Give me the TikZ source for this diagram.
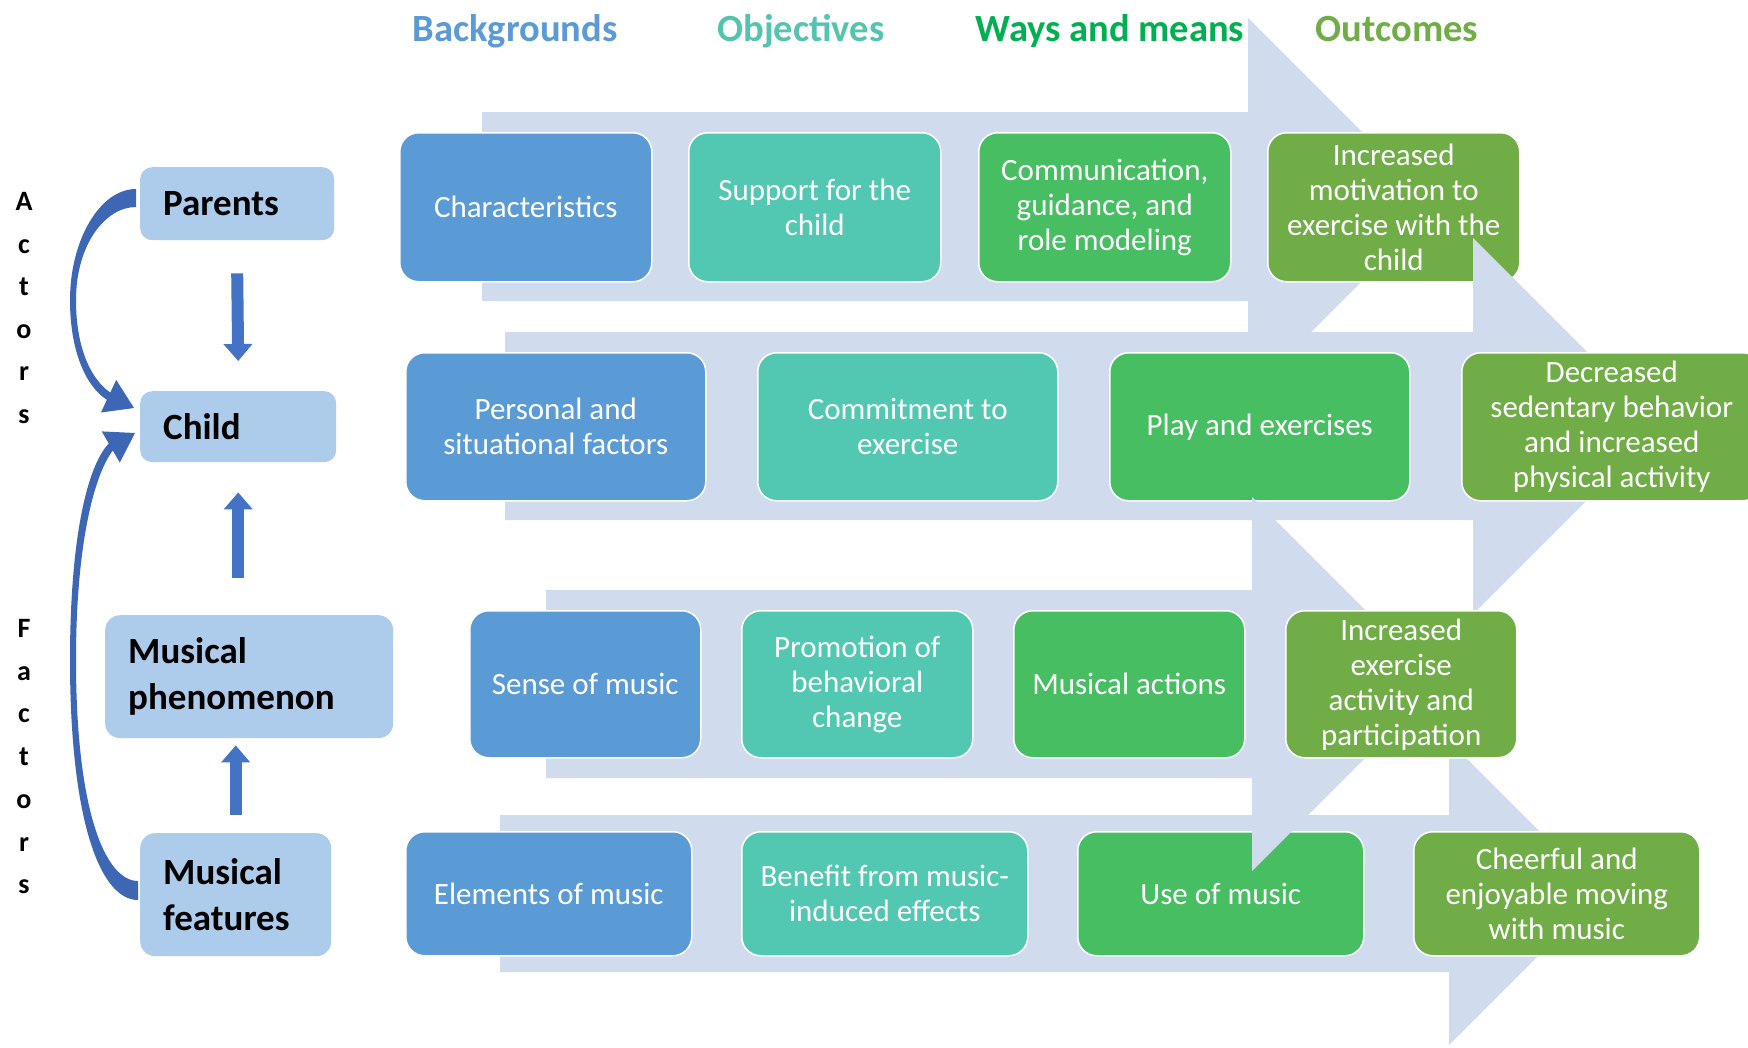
\documentclass[tikz,border=0pt]{standalone}
\usepackage{fontspec}
\setmainfont{Carlito}
\usetikzlibrary{arrows.meta,calc}

\definecolor{bgblue}{HTML}{5B9BD5}
\definecolor{objteal}{HTML}{52C8B2}
\definecolor{waygreen}{HTML}{47BE62}
\definecolor{outgreen}{HTML}{70AD47}
\definecolor{hdteal}{HTML}{55C4AF}
\definecolor{hdgreen}{HTML}{00B050}
\definecolor{bandc}{HTML}{D0DBEE}
\definecolor{actorc}{HTML}{ADCBEA}
\definecolor{linkc}{HTML}{4472C4}
\definecolor{curvec}{HTML}{3D66B4}

\newcommand\boxfont{\fontsize{31}{35}\selectfont}
\newcommand\actorfont{\fontsize{37}{46}\selectfont\bfseries}
\newcommand\headfont{\fontsize{38.5}{44}\selectfont\bfseries}
\newcommand\sidefont{\fontsize{28}{30}\selectfont\bfseries}

\tikzset{
  cell/.style={anchor=north west, rounded corners=19pt, draw=white,
    line width=1.5pt, text=white, align=center, font=\boxfont, inner sep=3pt},
  actor/.style={anchor=north west, rounded corners=12pt, fill=actorc,
    text=black, align=left, font=\actorfont, inner xsep=23pt, inner ysep=2pt},
  band/.style={fill=bandc},
  head/.style={anchor=base, font=\headfont},
  side/.style={anchor=base, font=\sidefont, text=black},
  vlink/.style={draw=linkc, line width=12pt,
    -{Triangle[width=28pt,length=17pt]}},
}

\begin{document}
\begin{tikzpicture}[x=1pt,y=-1pt]
\useasboundingbox (0,0) rectangle (1748,1047);
\fill[white] (0,0) rectangle (1748,1047);

% column headings
\node[head, text=bgblue]   (hbg)  at (515,41)  {Backgrounds};
\node[head, text=hdteal]   (hobj) at (801,41)  {Objectives};
\node[head, text=hdgreen]  (hway) at (1110,41) {Ways and means};
\node[head, text=outgreen] (hout) at (1397,41) {Outcomes};

% vertical side labels
\foreach \l [count=\i from 0] in {A,c,t,o,r,s}
  \node[side] (act\i) at (24,210.5+42.6*\i) {\l};
\foreach \l [count=\i from 0] in {F,a,c,t,o,r,s}
  \node[side] (fac\i) at (24,637.5+42.7*\i) {\l};

% row 1: parents
\fill[band] (482,112) -- (1248,112) -- (1248,18) -- (1436.5,206.5)
  -- (1248,395) -- (1248,301) -- (482,301) -- cycle;
\node[cell, fill=bgblue,   minimum width=252pt, minimum height=149pt] (r1a) at (399,132)  {Characteristics};
\node[cell, fill=objteal,  minimum width=252pt, minimum height=149pt] (r1b) at (688,132)  {Support for the\\child};
\node[cell, fill=waygreen, minimum width=252pt, minimum height=149pt] (r1c) at (978,132)  {Communication,\\guidance, and\\role modeling};
\node[cell, fill=outgreen, minimum width=252pt, minimum height=149pt] (r1d) at (1267,132) {Increased\\motivation to\\exercise with the\\child};

% row 2: child
\fill[band] (505,332) -- (1473,332) -- (1473,238) -- (1661,426)
  -- (1473,614) -- (1473,520) -- (505,520) -- cycle;
\node[cell, fill=bgblue,   minimum width=300pt, minimum height=148pt] (r2a) at (405,352)  {Personal and\\situational factors};
\node[cell, fill=objteal,  minimum width=300pt, minimum height=148pt] (r2b) at (757,352)  {Commitment to\\exercise};
\node[cell, fill=waygreen, minimum width=300pt, minimum height=148pt] (r2c) at (1109,352) {Play and exercises};
\node[cell, fill=outgreen, minimum width=300pt, minimum height=148pt] (r2d) at (1461,352) {Decreased\\sedentary behavior\\and increased\\physical activity};

% row 4: musical features
\fill[band] (500,815) -- (1449,815) -- (1449,741) -- (1601,893)
  -- (1449,1045) -- (1449,972) -- (500,972) -- cycle;
\node[cell, fill=bgblue,   minimum width=286pt, minimum height=124pt] (r4a) at (405,831)  {Elements of music};
\node[cell, fill=objteal,  minimum width=286pt, minimum height=124pt] (r4b) at (741,831)  {Benefit from music-\\induced effects};
\node[cell, fill=waygreen, minimum width=286pt, minimum height=124pt] (r4c) at (1077,831) {Use of music};
\node[cell, fill=outgreen, minimum width=286pt, minimum height=124pt] (r4d) at (1413,831) {Cheerful and\\enjoyable moving\\with music};

% row 3: musical phenomenon
\fill[band] (546,590) -- (1252,590) -- (1252,497) -- (1439,684)
  -- (1252,871) -- (1252,778) -- (546,778) -- cycle;
\node[cell, fill=bgblue,   minimum width=231pt, minimum height=147pt] (r3a) at (469,610)  {Sense of music};
\node[cell, fill=objteal,  minimum width=231pt, minimum height=147pt] (r3b) at (741,610)  {Promotion of\\behavioral\\change};
\node[cell, fill=waygreen, minimum width=231pt, minimum height=147pt] (r3c) at (1013,610) {Musical actions};
\node[cell, fill=outgreen, minimum width=231pt, minimum height=147pt] (r3d) at (1285,610) {Increased\\exercise\\activity and\\participation};

% actors and factors
\node[actor, minimum width=194pt, minimum height=73pt,  text width=148pt] (parents) at (140,167) {Parents};
\node[actor, minimum width=196pt, minimum height=71pt,  text width=150pt] (child)   at (140,391) {Child};
\node[actor, minimum width=288pt, minimum height=123pt, text width=242pt, rounded corners=15pt] (phen) at (105,615) {Musical\\phenomenon};
\node[actor, minimum width=191pt, minimum height=123pt, text width=145pt, rounded corners=15pt] (feat) at (140,833) {Musical\\features};

% straight links
\draw[vlink] ([yshift=-33pt]parents.south) -- ([yshift=30pt]child.north);
\draw[vlink] ($(phen.north -| child.south)+(0,-37)$) -- ($(child.south)+(0,30)$);
\draw[vlink] ($(feat.north)+(0,-18)$) -- ($(phen.south -| feat.north)+(0,7)$);

% curved links into the child box
\fill[curvec] (136,189) .. controls (100,189) and (70,240) .. (70,300)
  .. controls (70,355) and (88,388) .. (106.9,399.8)
  -- (101.0,412.5) -- (134,408) -- (116.2,379.9) -- (110.3,392.6)
  .. controls (92,380) and (76,350) .. (76,300)
  .. controls (76,245) and (105,207) .. (136,207) -- cycle;
\fill[curvec] (138,900) .. controls (100,900) and (70,820) .. (70,660)
  .. controls (70,535) and (88,465) .. (108.8,443.5)
  -- (101.8,431.4) -- (135,433) -- (119.8,462.6) -- (112.8,450.5)
  .. controls (94,475) and (76,545) .. (76,660)
  .. controls (76,810) and (105,881) .. (138,881) -- cycle;
\end{tikzpicture}
\end{document}
